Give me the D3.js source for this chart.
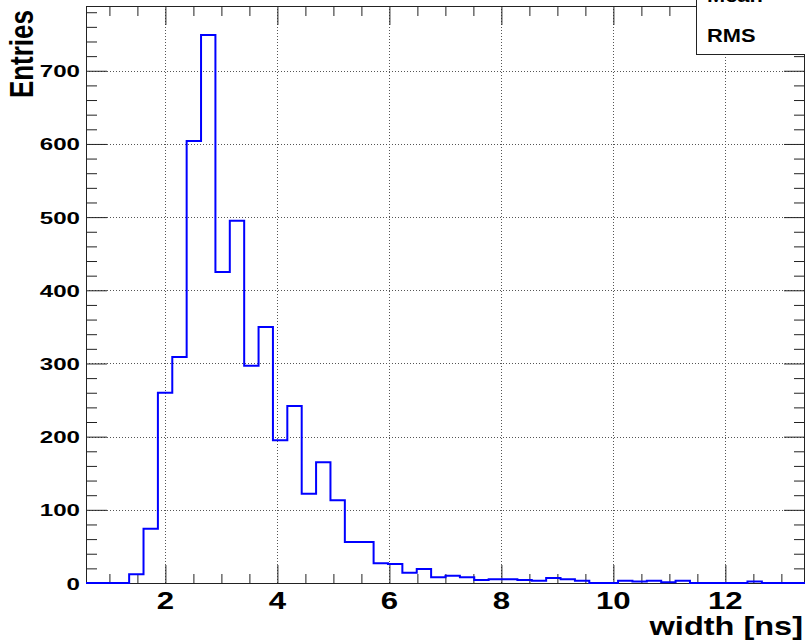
<!DOCTYPE html>
<html>
<head>
<meta charset="utf-8">
<script src="https://cdn.jsdelivr.net/npm/d3@7"></script>
<style>
  body { margin: 0; background: #fff; }
  svg { display: block; }
  text { font-family: "Liberation Sans", Arial, Helvetica, sans-serif; font-weight: bold; fill: #000; }
</style>
</head>
<body>
<div id="hist"></div>
<script>
// histogram contents
var binLow = 0.582, binWidth = 0.2568;
var binCounts = [0,0,0,12,74,260,309,604,749,425,495,297,350,195,242,122,165,113,56,56,
                 27,26,14,19,8,10,8,4,5,5,4,3,7,5,3,0,0,3,2,3,1,3,0,0,0,0,2,0,0,0];
var xMajorTicks = [2,4,6,8,10,12];
var xMinorTicks = [1,1.5,2.5,3,3.5,4.5,5,5.5,6.5,7,7.5,8.5,9,9.5,10.5,11,11.5,12.5,13];
var yMajorTicks = [0,100,200,300,400,500,600,700];
var yMinorStep = 20;
var xTitle = "width [ns]", yTitle = "Entries";
var statNames = ["Mean", "RMS"];

function histo(id){
    var W = 805, H = 644;
    var fr = {l: 86, r: 805, t: 6, b: 583};

    var svg = d3.select(id).append("svg").attr("width", W).attr("height", H);

    var x = d3.scaleLinear().domain([binLow, binLow + binCounts.length*binWidth]).range([fr.l, fr.r]);
    var y = d3.scaleLinear().domain([0, 788.5]).range([fr.b, fr.t]);

    // grid
    var grid = svg.append("g").attr("stroke", "#555").attr("stroke-width", 1).attr("stroke-dasharray", "1,2");
    grid.selectAll(".gx").data(xMajorTicks).enter().append("line")
        .attr("x1", function(d){ return Math.round(x(d))+0.5; })
        .attr("x2", function(d){ return Math.round(x(d))+0.5; })
        .attr("y1", fr.t).attr("y2", fr.b);
    grid.selectAll(".gy").data(yMajorTicks.filter(function(d){ return d>0; })).enter().append("line")
        .attr("y1", function(d){ return Math.round(y(d))+0.5; })
        .attr("y2", function(d){ return Math.round(y(d))+0.5; })
        .attr("x1", fr.l).attr("x2", fr.r);

    // axes with ROOT style ticks on all four sides
    var yMinor = d3.range(0, 788, yMinorStep).filter(function(d){ return d%100 != 0; });
    svg.append("g").attr("transform", "translate(0,"+fr.b+")")
        .call(d3.axisTop(x).tickValues(xMajorTicks).tickSize(18).tickFormat(""));
    svg.append("g").attr("transform", "translate(0,"+fr.b+")")
        .call(d3.axisTop(x).tickValues(xMinorTicks).tickSize(9).tickFormat(""));
    svg.append("g").attr("transform", "translate(0,"+fr.t+")")
        .call(d3.axisBottom(x).tickValues(xMajorTicks).tickSize(19).tickFormat(""));
    svg.append("g").attr("transform", "translate(0,"+fr.t+")")
        .call(d3.axisBottom(x).tickValues(xMinorTicks).tickSize(10).tickFormat(""));
    svg.append("g").attr("transform", "translate("+fr.l+",0)")
        .call(d3.axisRight(y).tickValues(yMajorTicks).tickSize(21).tickFormat(""));
    svg.append("g").attr("transform", "translate("+fr.l+",0)")
        .call(d3.axisRight(y).tickValues(yMinor).tickSize(11).tickFormat(""));
    svg.append("g").attr("transform", "translate("+fr.r+",0)")
        .call(d3.axisLeft(y).tickValues(yMajorTicks).tickSize(21).tickFormat(""));
    svg.append("g").attr("transform", "translate("+fr.r+",0)")
        .call(d3.axisLeft(y).tickValues(yMinor).tickSize(11).tickFormat(""));
    svg.selectAll(".domain").remove();
    svg.selectAll(".tick line").attr("stroke", "#222");

    // frame
    svg.append("rect").attr("x", fr.l+0.5).attr("y", fr.t+0.5)
        .attr("width", fr.r-fr.l-1).attr("height", fr.b-fr.t)
        .attr("fill", "none").attr("stroke", "#222");

    // histogram outline
    var pts = binCounts.map(function(c, i){ return [binLow + i*binWidth, c]; });
    pts.push([binLow + binCounts.length*binWidth, binCounts[binCounts.length-1]]);
    var line = d3.line().curve(d3.curveStepAfter)
        .x(function(d){ return x(d[0]); })
        .y(function(d){ return y(d[1]); });
    svg.append("path").datum(pts).attr("d", line)
        .attr("fill", "none").attr("stroke", "#0000ff").attr("stroke-width", 2);

    // tick labels (the picture is stretched sideways, so are the glyphs)
    svg.selectAll(".xl").data(xMajorTicks).enter().append("text")
        .attr("transform", function(d){ return "translate("+x(d)+",609) scale(1.3,1)"; })
        .attr("text-anchor", "middle").style("font-size", "24px")
        .text(function(d){ return d; });
    svg.selectAll(".yl").data(yMajorTicks).enter().append("text")
        .attr("transform", function(d){ return "translate(80,"+(y(d)+6.5)+") scale(1.42,1)"; })
        .attr("text-anchor", "end").style("font-size", "17px")
        .text(function(d){ return d; });

    // titles
    svg.append("text").attr("transform", "translate(803,635) scale(1.25,1)")
        .attr("text-anchor", "end").style("font-size", "26px").text(xTitle);
    svg.append("text").attr("transform", "translate(33,10) scale(1.3,1) rotate(-90)")
        .attr("text-anchor", "end").style("font-size", "26px").text(yTitle);

    // stats box, cut by the picture edge
    var sb = svg.append("g");
    sb.append("rect").attr("x", 696.5).attr("y", -20).attr("width", 130).attr("height", 74.5)
        .attr("fill", "#fff").attr("stroke", "#222");
    sb.selectAll("text").data(statNames).enter().append("text")
        .attr("transform", function(d, i){ return "translate(707,"+(1.7+40*i)+") scale(1.18,1)"; })
        .style("font-size", "18.5px").text(function(d){ return d; });
}

histo("#hist");
</script>
</body>
</html>
